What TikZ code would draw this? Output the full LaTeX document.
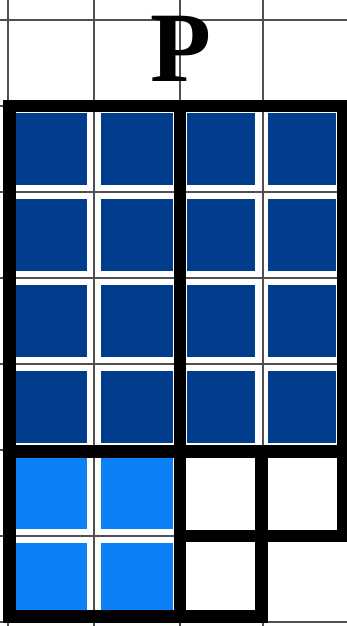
\documentclass[tikz,border=0pt]{standalone}
\usepackage{fontspec}
\setmainfont{Liberation Serif}
\definecolor{darkblock}{RGB}{2,60,140}
\definecolor{lightblock}{RGB}{12,128,245}
\definecolor{gridgray}{RGB}{80,80,80}

\begin{document}
\begin{tikzpicture}[x=1cm, y=1cm,
  thinline/.style={gridgray, line width=0.7pt},
  wall/.style={black, line width=4.1pt, line cap=rect, line join=miter}]
  \useasboundingbox (-0.09,-0.05) rectangle (3.945,7.23);
  % Background grid
  \foreach \x in {0,1,2,2.97} \draw[thinline] (\x,-0.05) -- (\x,7.23);
  \foreach \y in {0,...,7} \draw[thinline] (-0.09,\y) -- (3.945,\y);
  % Dark blocks
  \foreach \x/\w in {0/1, 1/1, 2/0.95, 2.95/0.95} {
    \foreach \y in {2,...,5} {
      \fill[darkblock] (\x+0.08,\y+0.08) rectangle (\x+\w-0.08,\y+0.92);
    }
  }
  % Light blocks
  \foreach \x in {0,1} {
    \foreach \y in {0,1} {
      \fill[lightblock] (\x+0.08,\y+0.08) rectangle (\x+0.92,\y+0.92);
    }
  }
  % Walls
  \draw[wall] (3.9,1) -- (3.9,6) -- (0.02,6) -- (0.02,0.06) -- (2.95,0.06) -- (2.95,1.98);
  \draw[wall] (2,6) -- (2,0.06);
  \draw[wall] (0.02,1.98) -- (3.9,1.98);
  \draw[wall] (2,1) -- (3.9,1);
  \node[font=\fontsize{33}{38}\selectfont\bfseries, anchor=base] (label) at (2.01,6.28) {P};
\end{tikzpicture}
\end{document}
